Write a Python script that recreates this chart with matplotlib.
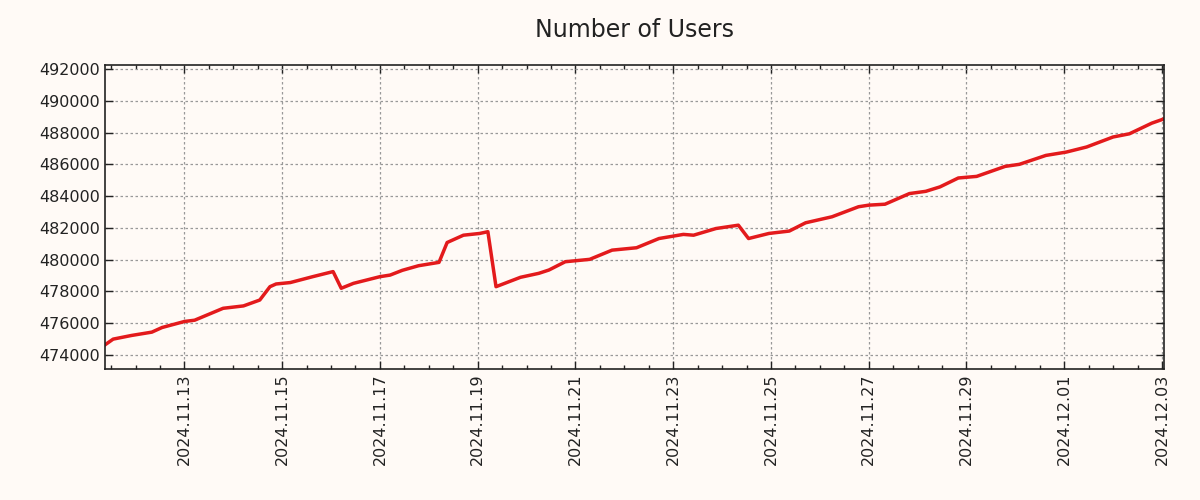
import numpy as np
import pandas as pd
import matplotlib
matplotlib.use('Agg')
import matplotlib.pyplot as plt
import matplotlib.dates as mdates

# readings taken off the reference chart
times = [
    '2024-11-11 09:00', '2024-11-11 13:00', '2024-11-11 22:00', '2024-11-12 08:00',
    '2024-11-12 13:00', '2024-11-13 00:00', '2024-11-13 05:00', '2024-11-13 19:00',
    '2024-11-14 05:00', '2024-11-14 13:00', '2024-11-14 18:00', '2024-11-14 21:00',
    '2024-11-15 04:00', '2024-11-15 15:00', '2024-11-16 01:00', '2024-11-16 05:00',
    '2024-11-16 11:00', '2024-11-17 00:00', '2024-11-17 05:00', '2024-11-17 11:00',
    '2024-11-17 19:00', '2024-11-18 05:00', '2024-11-18 09:00', '2024-11-18 17:00',
    '2024-11-19 01:00', '2024-11-19 05:00', '2024-11-19 09:00', '2024-11-19 21:00',
    '2024-11-20 06:00', '2024-11-20 11:00', '2024-11-20 19:00', '2024-11-21 07:00',
    '2024-11-21 18:00', '2024-11-22 06:00', '2024-11-22 17:00', '2024-11-23 05:00',
    '2024-11-23 10:00', '2024-11-23 21:00', '2024-11-24 08:00', '2024-11-24 13:00',
    '2024-11-24 23:00', '2024-11-25 09:00', '2024-11-25 17:00', '2024-11-26 06:00',
    '2024-11-26 19:00', '2024-11-27 00:00', '2024-11-27 08:00', '2024-11-27 20:00',
    '2024-11-28 04:00', '2024-11-28 11:00', '2024-11-28 20:00', '2024-11-29 05:00',
    '2024-11-29 19:00', '2024-11-30 02:00', '2024-11-30 15:00', '2024-12-01 01:00',
    '2024-12-01 11:00', '2024-12-02 00:00', '2024-12-02 08:00', '2024-12-02 19:00',
    '2024-12-03 01:00',
]
users = [
    474640, 475000, 475230, 475440,
    475730, 476110, 476190, 476940,
    477090, 477460, 478300, 478470,
    478560, 478930, 479250, 478200,
    478510, 478930, 479030, 479330,
    479620, 479830, 481080, 481540,
    481650, 481760, 478300, 478890,
    479140, 479350, 479870, 480020,
    480600, 480750, 481330, 481590,
    481540, 481960, 482170, 481330,
    481650, 481800, 482320, 482700,
    483330, 483430, 483490, 484160,
    484300, 484580, 485140, 485240,
    485870, 486000, 486560, 486770,
    487090, 487720, 487920, 488590,
    488860,
]
y_ticks = [474000, 476000, 478000, 480000, 482000, 484000, 486000, 488000, 490000, 492000]
x_ticks = ['2024-11-13', '2024-11-15', '2024-11-17', '2024-11-19', '2024-11-21', '2024-11-23',
           '2024-11-25', '2024-11-27', '2024-11-29', '2024-12-01', '2024-12-03']

dates = pd.to_datetime(times)
bg = '#fffaf6'

fig = plt.figure(figsize=(12, 5), dpi=100, facecolor=bg)
ax = fig.add_axes([0.0875, 0.262, 0.8825, 0.608])
ax.set_facecolor(bg)

ax.plot(dates, users, color='#e31a1c', linewidth=2.5)

ax.set_xlim(dates[0], dates[-1])
ax.set_ylim(473120, 492250)
ax.set_yticks(y_ticks)
ax.yaxis.set_major_formatter(matplotlib.ticker.FuncFormatter(lambda v, p: '%d' % v))

ax.set_xticks(pd.to_datetime(x_ticks))
ax.xaxis.set_minor_locator(mdates.HourLocator(byhour=[0, 12]))
ax.xaxis.set_major_formatter(mdates.DateFormatter('%Y.%m.%d'))

ax.tick_params(which='both', direction='in', top=True, right=True, colors='#222222')
ax.tick_params(which='major', length=6, width=1, labelsize=11.5)
ax.tick_params(which='minor', length=3, width=1)
for lbl in ax.get_xticklabels():
    lbl.set_rotation(90)

ax.grid(True, which='major', color='#999999', linestyle=(0, (2, 2)), linewidth=0.9)
for s in ax.spines.values():
    s.set_color('#222222')
    s.set_linewidth(1.2)

ax.set_title('Number of Users', fontsize=17, color='#222222', pad=20)

fig.savefig('out.png', dpi=100, facecolor=bg)
